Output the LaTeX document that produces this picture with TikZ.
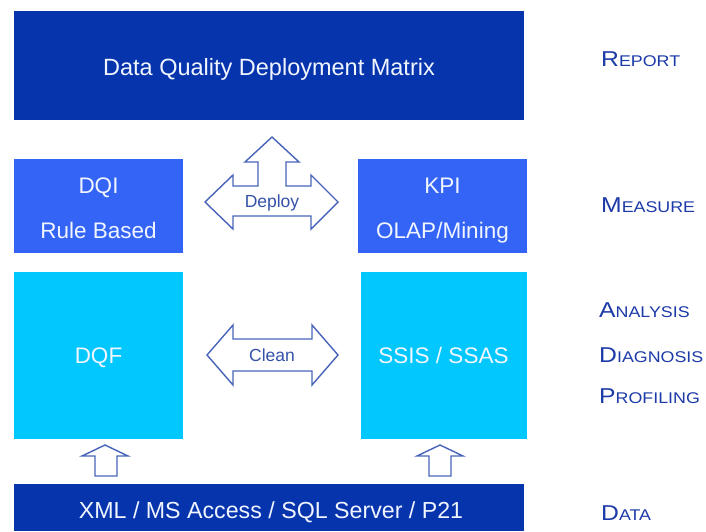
\documentclass[tikz,border=0pt]{standalone}
\usepackage{fontspec}
\setmainfont{Liberation Sans}
\newfontfamily\labelfont[FakeStretch=1.15]{Liberation Sans}
\definecolor{layerdark}{RGB}{6,52,172}
\definecolor{layermid}{RGB}{52,100,246}
\definecolor{layercyan}{RGB}{0,200,255}
\definecolor{tagblue}{RGB}{28,58,168}
\definecolor{outlineblue}{RGB}{72,100,185}
\definecolor{arrowtext}{RGB}{52,82,170}
\definecolor{boxwhite}{RGB}{240,245,255}
\newcommand\boxtext{\fontsize{22.5}{26}\selectfont}
\newcommand\tagname[2]{{\labelfont\color{tagblue}\fontsize{21.5}{24}\selectfont #1\fontsize{15.5}{24}\selectfont #2}}
\tikzset{
  layer/.style={rectangle, inner sep=0pt, outer sep=0pt},
  caption/.style={anchor=base, inner sep=0pt, text=boxwhite, font=\boxtext},
  tag/.style={anchor=base west, inner sep=0pt},
  hollow/.style={draw=outlineblue, line width=1.4pt, fill=white, line join=miter},
  arrowlabel/.style={anchor=base, text=arrowtext, font=\fontsize{17.5}{20}\selectfont, inner sep=0pt}
}
\begin{document}
\begin{tikzpicture}[x=1pt, y=-1pt]
\useasboundingbox (0,0) rectangle (706,531);
\fill[white] (0,0) rectangle (706,531);

% layer boxes
\node[layer, fill=layerdark, minimum width=510pt, minimum height=109pt] (report) at (269,65.5) {};
\node[caption, font=\fontsize{23.5}{26}\selectfont] (reporttxt) at (269,75) {Data Quality Deployment Matrix};
\node[layer, fill=layermid, minimum width=169pt, minimum height=94pt] (dqi) at (98.5,206) {};
\node[caption] (dqi1) at (98.5,193) {DQI};
\node[caption] (dqi2) at (98.5,238) {Rule Based};
\node[layer, fill=layermid, minimum width=169pt, minimum height=94pt] (kpi) at (442.5,206) {};
\node[caption] (kpi1) at (442.5,193) {KPI};
\node[caption] (kpi2) at (442.5,238) {OLAP/Mining};
\node[layer, fill=layercyan, minimum width=169pt, minimum height=167pt] (dqf) at (98.5,355) {};
\node[caption] (dqftxt) at (98.5,363) {DQF};
\node[layer, fill=layercyan, minimum width=166pt, minimum height=167pt] (ssis) at (443.5,355) {};
\node[caption] (ssistxt) at (443.5,363) {SSIS / SSAS};
\node[layer, fill=layerdark, minimum width=510pt, minimum height=47pt] (data) at (269,507.5) {};
\node[caption, font=\fontsize{23.2}{26}\selectfont] (datatxt) at (271,518) {XML / MS Access / SQL Server / P21};

% deploy arrow (three-way)
\draw[hollow] (205,202) -- (233,175) -- (233,186) -- (258,186) -- (258,162) -- (245,162)
  -- (272,137) -- (299,162) -- (286,162) -- (286,186) -- (311,186) -- (311,175)
  -- (338,202) -- (311,229) -- (311,216) -- (233,216) -- (233,229) -- cycle;
\node[arrowlabel] (deploy) at (272,207) {Deploy};

% clean arrow (two-way)
\draw[hollow] (207,355) -- (233,325) -- (233,339) -- (312,339) -- (312,325) -- (338,355)
  -- (312,385) -- (312,371) -- (233,371) -- (233,385) -- cycle;
\node[arrowlabel] (clean) at (272,361) {Clean};

% up arrows from the data layer
\draw[hollow] (105,445) -- (128,456) -- (117,456) -- (117,476) -- (95,476) -- (95,456) -- (82,456) -- cycle;
\draw[hollow] (440,445) -- (463,456) -- (451,456) -- (451,476) -- (429,476) -- (429,456) -- (417,456) -- cycle;

% layer names
\node[tag] (treport) at (601,66) {\tagname{R}{EPORT}};
\node[tag] (tmeasure) at (601,212) {\tagname{M}{EASURE}};
\node[tag] (tanalysis) at (599,317) {\tagname{A}{NALYSIS}};
\node[tag] (tdiagnosis) at (599,362) {\tagname{D}{IAGNOSIS}};
\node[tag] (tprofiling) at (599,403) {\tagname{P}{ROFILING}};
\node[tag] (tdata) at (601,520) {\tagname{D}{ATA}};
\end{tikzpicture}
\end{document}
